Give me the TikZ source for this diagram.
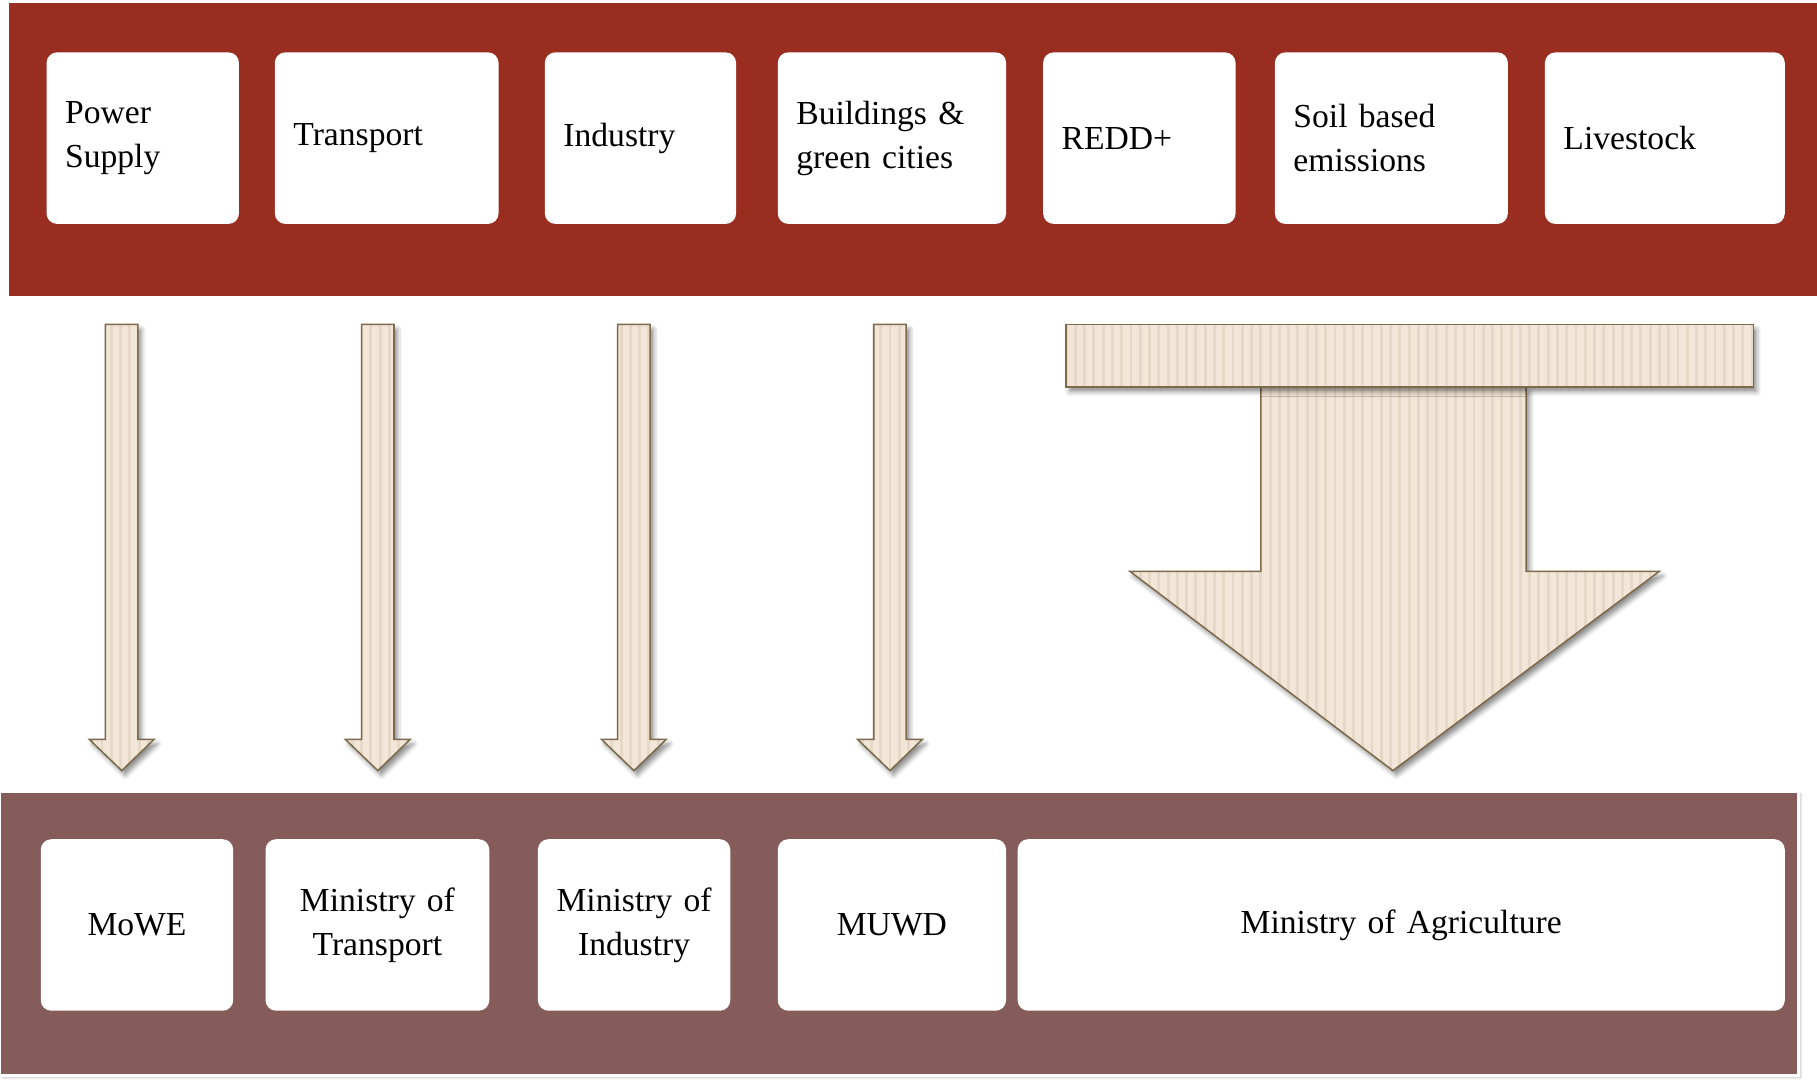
\documentclass[tikz,border=0pt]{standalone}
\usepackage{fontspec}
\setmainfont{Liberation Serif}
\usetikzlibrary{patterns.meta,shadows.blur}

\definecolor{sectorred}{HTML}{992D1F}
\definecolor{ministrybrown}{HTML}{865C5B}
\definecolor{arrowfill}{HTML}{F2E6D8}
\definecolor{stripe}{HTML}{E5D8C6}
\definecolor{arrowline}{HTML}{7D6A4C}

\begin{document}
\begin{tikzpicture}[
            x=1pt, y=-1pt,
            font=\fontsize{29}{38}\selectfont,
            sector/.style={
                fill=white,
                rounded corners=9pt,
                anchor=north west,
                minimum height=148pt,
                align=left,
                inner xsep=16pt
            },
            ministry/.style={
                fill=white,
                rounded corners=9pt,
                anchor=north west,
                minimum height=148pt,
                align=center,
                inner xsep=0pt
            },
            blockarrow/.style={
                fill=arrowfill,
                blur shadow={shadow xshift=3pt, shadow yshift=-4pt,
                    shadow blur radius=4pt, shadow opacity=45},
                postaction={pattern={Lines[angle=90, distance=8pt, line width=2.5pt]},
                    pattern color=stripe},
                postaction={draw=arrowline, line width=1.3pt}
            }
        ]
        \useasboundingbox (0,0) rectangle (1568,935);

        % Bands
        \fill[sectorred] (8,3) rectangle (1568,255);
        \path[fill=ministrybrown, draw=white, line width=2pt,
            blur shadow={shadow xshift=2pt, shadow yshift=-2pt, shadow opacity=25}]
            (0,683) rectangle (1552,928);

        % Sectors (top row)
        \node[sector, text width=134pt] (power) at (40,45) {Power\\Supply};
        \node[sector, text width=161pt] (transport) at (237,45) {Transport};
        \node[sector, text width=133pt] (industry) at (470,45) {Industry};
        \node[sector, text width=165pt] (buildings) at (671,45) {Buildings \&\\green cities};
        \node[sector, text width=134pt] (redd) at (900,45) {REDD+};
        \node[sector, text width=169pt] (soil) at (1100,45) {Soil based\\emissions};
        \node[sector, text width=175pt] (livestock) at (1333,45) {Livestock};

        % Ministries (bottom row)
        \node[ministry, text width=166pt] (mowe) at (35,724) {MoWE};
        \node[ministry, text width=193pt] (motransport) at (229,724) {Ministry of\\Transport};
        \node[ministry, text width=166pt] (moindustry) at (464,724) {Ministry of\\Industry};
        \node[ministry, text width=197pt] (muwd) at (671,724) {MUWD};
        \node[ministry, text width=662pt] (moagri) at (878,724) {Ministry of Agriculture};

        % Single arrows
        \foreach \cx in {105,326,547,768}
            \path[blockarrow] (\cx-14,280) -- (\cx+14,280) -- (\cx+14,638)
                -- (\cx+28,638) -- (\cx,665) -- (\cx-28,638) -- (\cx-14,638) -- cycle;

        % Merged arrow
        \path[blockarrow] (1088,334) -- (1317,334) -- (1317,493) -- (1432,493)
            -- (1202,665) -- (975,493) -- (1088,493) -- cycle;
        \path[blockarrow] (920,280) rectangle (1513,334);

        \end{tikzpicture}
\end{document}
